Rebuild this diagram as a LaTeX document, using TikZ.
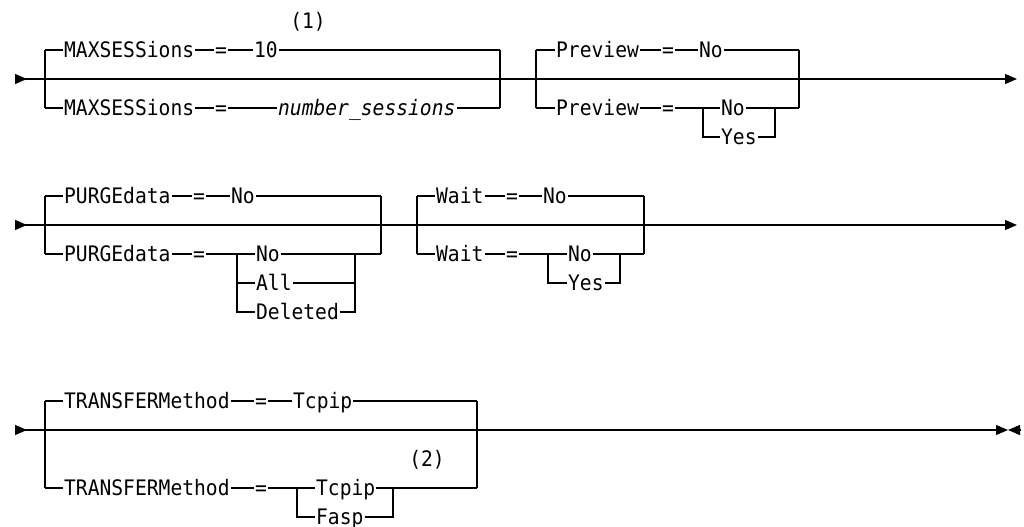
\documentclass[tikz,border=0pt]{standalone}
\usepackage{fontspec}
\setmonofont[FakeStretch=0.92]{DejaVu Sans Mono}
\usetikzlibrary{arrows.meta}
\newcommand{\synfont}{\ttfamily\fontsize{16pt}{19pt}\selectfont}
\tikzset{
  every picture/.style={line width=0.95pt, x=0.75pt, y=-0.75pt},
  kw/.style={font=\synfont, anchor=west, inner xsep=0.4pt, inner ysep=0pt, text height=14.66pt, text depth=3pt},
  var/.style={kw, font=\synfont\itshape},
  fn/.style={font=\synfont},
  rail/.style={{Triangle[reversed, length=9pt, width=7.5pt]}-{Triangle[length=9pt, width=7.5pt]}},
  stop/.style={-{Triangle[length=9pt, width=7.5pt]}},
}

\begin{document}
\begin{tikzpicture}
  \useasboundingbox (0,0) rectangle (1024,527);
  % row 1
  \coordinate (r1s) at (15,79);
  \coordinate (r1e) at (1017,79);
  \draw[rail] (r1s) -- (r1e);
  \coordinate (m-tl) at (45,50);
  \coordinate (m-bl) at (45,108);
  \coordinate (m-tr) at (500,50);
  \coordinate (m-br) at (500,108);
  \node[kw] (m1) at (63,50) {MAXSESSions};
  \node[kw] (m1eq) at (214,50) {=};
  \node[kw] (m1v) at (253,50) {10};
  \node[kw] (m2) at (63,108) {MAXSESSions};
  \node[kw] (m2eq) at (214,108) {=};
  \node[var] (m2v) at (277,108) {number\_sessions};
  \node[fn] (n1) at (308,22) {(1)};
  \draw (m-tl) -- (m-bl);
  \draw (m-tr) -- (m-br);
  \draw (m-tl) -- (m1) -- (m1eq) -- (m1v) -- (m-tr);
  \draw (m-bl) -- (m2) -- (m2eq) -- (m2v) -- (m-br);
  \coordinate (p-tl) at (536,50);
  \coordinate (p-bl) at (536,108);
  \coordinate (p-tr) at (799,50);
  \coordinate (p-br) at (799,108);
  \coordinate (ps-tl) at (703,108);
  \coordinate (ps-bl) at (703,137);
  \coordinate (ps-tr) at (775,108);
  \coordinate (ps-br) at (775,137);
  \node[kw] (p1) at (555,50) {Preview};
  \node[kw] (p1eq) at (661,50) {=};
  \node[kw] (p1v) at (698,50) {No};
  \node[kw] (p2) at (555,108) {Preview};
  \node[kw] (p2eq) at (661,108) {=};
  \node[kw] (p2a) at (720,108) {No};
  \node[kw] (p2b) at (720,137) {Yes};
  \draw (p-tl) -- (p-bl);
  \draw (p-tr) -- (p-br);
  \draw (p-tl) -- (p1) -- (p1eq) -- (p1v) -- (p-tr);
  \draw (p-bl) -- (p2) -- (p2eq) -- (ps-tl) -- (p2a) -- (ps-tr) -- (p-br);
  \draw (ps-tl) -- (ps-bl) -- (p2b) -- (ps-br) -- (ps-tr);
  % row 2
  \coordinate (r2s) at (15,225);
  \coordinate (r2e) at (1017,225);
  \draw[rail] (r2s) -- (r2e);
  \coordinate (u-tl) at (45,196);
  \coordinate (u-bl) at (45,254);
  \coordinate (u-tr) at (381,196);
  \coordinate (u-br) at (381,254);
  \coordinate (us-tl) at (237,254);
  \coordinate (us-ml) at (237,283);
  \coordinate (us-bl) at (237,312);
  \coordinate (us-tr) at (355,254);
  \coordinate (us-mr) at (355,283);
  \coordinate (us-br) at (355,312);
  \node[kw] (u1) at (63,196) {PURGEdata};
  \node[kw] (u1eq) at (192,196) {=};
  \node[kw] (u1v) at (230,196) {No};
  \node[kw] (u2) at (63,254) {PURGEdata};
  \node[kw] (u2eq) at (192,254) {=};
  \node[kw] (u2a) at (255,254) {No};
  \node[kw] (u2b) at (255,283) {All};
  \node[kw] (u2c) at (255,312) {Deleted};
  \draw (u-tl) -- (u-bl);
  \draw (u-tr) -- (u-br);
  \draw (u-tl) -- (u1) -- (u1eq) -- (u1v) -- (u-tr);
  \draw (u-bl) -- (u2) -- (u2eq) -- (us-tl) -- (u2a) -- (us-tr) -- (u-br);
  \draw (us-tl) -- (us-bl) -- (u2c) -- (us-br) -- (us-tr);
  \draw (us-ml) -- (u2b) -- (us-mr);
  \coordinate (w-tl) at (417,196);
  \coordinate (w-bl) at (417,254);
  \coordinate (w-tr) at (644,196);
  \coordinate (w-br) at (644,254);
  \coordinate (ws-tl) at (548,254);
  \coordinate (ws-bl) at (548,283);
  \coordinate (ws-tr) at (620,254);
  \coordinate (ws-br) at (620,283);
  \node[kw] (w1) at (435,196) {Wait};
  \node[kw] (w1eq) at (505,196) {=};
  \node[kw] (w1v) at (542,196) {No};
  \node[kw] (w2) at (435,254) {Wait};
  \node[kw] (w2eq) at (505,254) {=};
  \node[kw] (w2a) at (567,254) {No};
  \node[kw] (w2b) at (567,283) {Yes};
  \draw (w-tl) -- (w-bl);
  \draw (w-tr) -- (w-br);
  \draw (w-tl) -- (w1) -- (w1eq) -- (w1v) -- (w-tr);
  \draw (w-bl) -- (w2) -- (w2eq) -- (ws-tl) -- (w2a) -- (ws-tr) -- (w-br);
  \draw (ws-tl) -- (ws-bl) -- (w2b) -- (ws-br) -- (ws-tr);
  % row 3
  \coordinate (r3s) at (15,430);
  \coordinate (r3e) at (1008,430);
  \coordinate (r3x) at (1020,430);
  \draw[rail] (r3s) -- (r3e);
  \draw[stop] (r3x) -- (r3e);
  \coordinate (t-tl) at (45,401);
  \coordinate (t-bl) at (45,488);
  \coordinate (t-tr) at (477,401);
  \coordinate (t-br) at (477,488);
  \coordinate (ts-tl) at (297,488);
  \coordinate (ts-bl) at (297,517);
  \coordinate (ts-tr) at (393,488);
  \coordinate (ts-br) at (393,517);
  \node[kw] (t1) at (63,401) {TRANSFERMethod};
  \node[kw] (t1eq) at (254,401) {=};
  \node[kw] (t1v) at (292,401) {Tcpip};
  \node[kw] (t2) at (63,488) {TRANSFERMethod};
  \node[kw] (t2eq) at (254,488) {=};
  \node[kw] (t2a) at (315,488) {Tcpip};
  \node[kw] (t2b) at (315,517) {Fasp};
  \node[fn] (n2) at (427,460) {(2)};
  \draw (t-tl) -- (t-bl);
  \draw (t-tr) -- (t-br);
  \draw (t-tl) -- (t1) -- (t1eq) -- (t1v) -- (t-tr);
  \draw (t-bl) -- (t2) -- (t2eq) -- (ts-tl) -- (t2a) -- (ts-tr) -- (t-br);
  \draw (ts-tl) -- (ts-bl) -- (t2b) -- (ts-br) -- (ts-tr);
\end{tikzpicture}
\end{document}
